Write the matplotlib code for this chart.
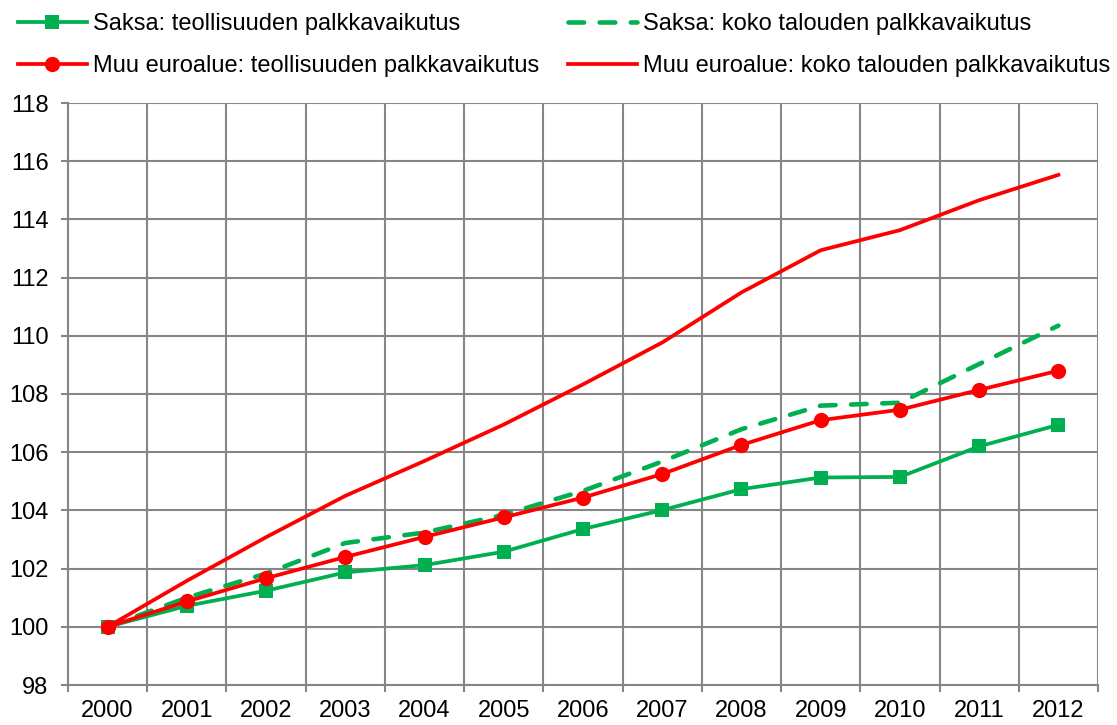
import matplotlib
matplotlib.use("Agg")
import matplotlib.pyplot as plt
import numpy as np

years = ["2000", "2001", "2002", "2003", "2004", "2005", "2006",
         "2007", "2008", "2009", "2010", "2011", "2012"]
saksa_teoll = [100.0, 100.72, 101.24, 101.87, 102.12, 102.58, 103.36,
               104.01, 104.73, 105.13, 105.15, 106.2, 106.94]
muu_teoll = [100.0, 100.87, 101.67, 102.4, 103.09, 103.76, 104.44,
             105.25, 106.25, 107.1, 107.46, 108.14, 108.8]
saksa_koko = [100.0, 101.0, 101.83, 102.88, 103.24, 103.85, 104.67,
              105.68, 106.79, 107.6, 107.7, 109.03, 110.35]
muu_koko = [100.0, 101.58, 103.08, 104.5, 105.7, 106.95, 108.33,
            109.77, 111.49, 112.94, 113.63, 114.66, 115.53]

labels = ["Saksa: teollisuuden palkkavaikutus",
          "Muu euroalue: teollisuuden palkkavaikutus",
          "Saksa: koko talouden palkkavaikutus",
          "Muu euroalue: koko talouden palkkavaikutus"]

plt.rcParams['font.family'] = ['Liberation Sans', 'DejaVu Sans']

GREEN = "#00B050"
RED = "#FF0000"
GRID = "#868686"

fig = plt.figure(figsize=(11.17, 7.25), dpi=100)
ax = fig.add_axes([68/1117, 1-685/725, (1098-68)/1117, (685-103)/725])

x = np.arange(len(years))

l1, = ax.plot(x, saksa_teoll, color=GREEN, lw=2.7, marker='s', markersize=10,
              markeredgewidth=0, zorder=3, label=labels[0])
l3, = ax.plot(x, saksa_koko, color=GREEN, lw=3.3, zorder=3, label=labels[2],
              dashes=(3.4, 3.4), dash_capstyle='round')
l2, = ax.plot(x, muu_teoll, color=RED, lw=2.7, marker='o', markersize=11,
              markeredgewidth=0, zorder=4, label=labels[1])
l4, = ax.plot(x, muu_koko, color=RED, lw=2.7, zorder=4, label=labels[3])

ax.set_xlim(-0.5, len(years) - 0.5)
ax.set_ylim(98, 118)
ax.set_yticks(np.arange(98, 119, 2))
ax.set_xticks(x)
ax.set_xticklabels(years)
ax.set_xticks(np.arange(-0.5, len(years), 1), minor=True)

ax.grid(True, which='major', axis='y', color=GRID, lw=1.5)
ax.grid(True, which='minor', axis='x', color=GRID, lw=1.5)
ax.set_axisbelow(True)

ax.tick_params(axis='x', which='major', length=0, labelsize=17, pad=11, colors='black')
ax.tick_params(axis='x', which='minor', length=5, width=1.5, color=GRID)
ax.tick_params(axis='y', which='major', length=5, width=1.5, color=GRID,
               labelsize=17, pad=9)

for s in ['top', 'right']:
    ax.spines[s].set_visible(False)
for s in ['left', 'bottom']:
    ax.spines[s].set_color(GRID)
    ax.spines[s].set_linewidth(1.5)

leg = fig.legend([l1, l2, l3, l4], labels, ncol=2, loc='upper center',
                 bbox_to_anchor=(0.505, 1.011), frameon=False, fontsize=17,
                 handlelength=2.9, columnspacing=1.25, handletextpad=0.25,
                 labelspacing=0.85)

fig.savefig("out.png", dpi=100)
